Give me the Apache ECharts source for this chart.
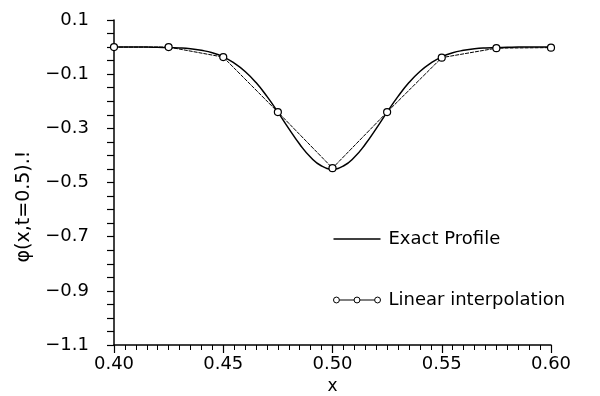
<!DOCTYPE html>
<html>
<head>
<meta charset="utf-8">
<script src="https://cdn.jsdelivr.net/npm/echarts@6/dist/echarts.min.js"></script>
<style>html,body{margin:0;padding:0;background:#fff}#c{width:600px;height:396px}</style>
</head>
<body>
<div id="c"></div>
<script>
// Exact profile (x, phi)
const exactX = [0.400,0.405,0.410,0.415,0.420,0.425,0.430,0.435,0.440,0.445,0.450,0.455,0.460,0.465,0.470,0.475,0.480,0.485,0.490,0.495,0.500,0.505,0.510,0.515,0.520,0.525,0.530,0.535,0.540,0.545,0.550,0.555,0.560,0.565,0.570,0.575,0.580,0.585,0.590,0.595,0.600];
const exactY = [0.000,0.000,0.000,0.000,-0.001,-0.002,-0.003,-0.006,-0.012,-0.021,-0.036,-0.059,-0.090,-0.131,-0.182,-0.240,-0.301,-0.359,-0.407,-0.439,-0.450,-0.439,-0.407,-0.359,-0.301,-0.240,-0.182,-0.131,-0.090,-0.059,-0.036,-0.021,-0.012,-0.006,-0.003,-0.002,-0.001,0.000,0.000,0.000,0.000];
// Linear interpolation nodes
const linX = [0.400,0.425,0.450,0.475,0.500,0.525,0.550,0.575,0.600];
const linY = [0.000,0.000,-0.037,-0.240,-0.447,-0.240,-0.039,-0.004,-0.002];
// Tick labels
const yLabels = ['0.1','−0.1','−0.3','−0.5','−0.7','−0.9','−1.1'];
const xLabels = ['0.40','0.45','0.50','0.55','0.60'];

const FONT = 'DejaVu Sans';
const chart = echarts.init(document.getElementById('c'), null, {renderer:'canvas'});
const fmtY = v => {
  const k = Math.round((0.1 - v) / 0.2 * 1000) / 1000;
  if (Math.abs(k - Math.round(k)) < 1e-6 && k >= 0 && k < yLabels.length) return yLabels[Math.round(k)];
  return '';
};
const fmtX = v => {
  const k = Math.round((v - 0.40) / 0.05 * 1000) / 1000;
  if (Math.abs(k - Math.round(k)) < 1e-6) return xLabels[Math.round(k)];
  return '';
};
const exactIcon = 'path://M0,0L48,0L48,1.4L0,1.4Z';
const linIcon = 'path://M0,3A3,3 0 1,0 6,3A3,3 0 1,0 0,3M6,3L21,3M21,3A3,3 0 1,0 27,3A3,3 0 1,0 21,3M27,3L42,3M42,3A3,3 0 1,0 48,3A3,3 0 1,0 42,3';
chart.setOption({
  animation:false,
  backgroundColor:'#fff',
  grid:{left:114,right:49,top:20,bottom:51,containLabel:false,outerBoundsMode:'none'},
  legend:{
    orient:'vertical', left:331, top:230, padding:0, itemGap:43, itemWidth:47, itemHeight:6,
    symbolKeepAspect:true,
    textStyle:{fontFamily:FONT,fontSize:18,color:'#000',padding:[0,0,0,3]},
    data:[
      {name:'Exact Profile', icon:exactIcon, itemStyle:{color:'#000',borderWidth:0}},
      {name:'Linear interpolation', icon:linIcon, itemStyle:{color:'none',borderColor:'#000',borderWidth:1}}
    ]
  },
  xAxis:{
    type:'value', min:0.40, max:0.60, interval:0.05,
    name:'x', nameLocation:'middle', nameGap:33,
    nameTextStyle:{fontFamily:FONT,fontSize:17,color:'#000'},
    axisLine:{onZero:false,lineStyle:{color:'#000',width:1.5}},
    axisTick:{show:true,length:8,inside:false,lineStyle:{color:'#000',width:1.2}},
    minorTick:{show:true,splitNumber:10,length:5,lineStyle:{color:'#000',width:1}},
    splitLine:{show:false},
    axisLabel:{formatter:fmtX,fontFamily:FONT,fontSize:18,color:'#000',margin:10}
  },
  yAxis:{
    type:'value', min:-1.1, max:0.1, interval:0.05,
    name:'φ(x,t=0.5).!', nameLocation:'middle', nameGap:80, nameRotate:90,
    nameTextStyle:{fontFamily:FONT,fontSize:19,color:'#000',padding:[0,48,0,0]},
    axisLine:{onZero:false,lineStyle:{color:'#000',width:1.5}},
    axisTick:{show:true,length:7,lineStyle:{color:'#000',width:1.2}},
    splitLine:{show:false},
    axisLabel:{formatter:fmtY,fontFamily:FONT,fontSize:18,color:'#000',margin:25}
  },
  series:[
    {
      name:'Exact Profile', type:'line', smooth:true, symbol:'none',
      lineStyle:{color:'#000',width:1.5},
      itemStyle:{color:'#000'},
      data: exactX.map((x,i)=>[x,exactY[i]])
    },
    {
      name:'Linear interpolation', type:'line', symbol:'circle', symbolSize:7,
      lineStyle:{color:'#000',width:1,type:[4,1]},
      itemStyle:{color:'#fff',borderColor:'#000',borderWidth:1.2},
      data: linX.map((x,i)=>[x,linY[i]])
    }
  ]
});
</script>
</body>
</html>
